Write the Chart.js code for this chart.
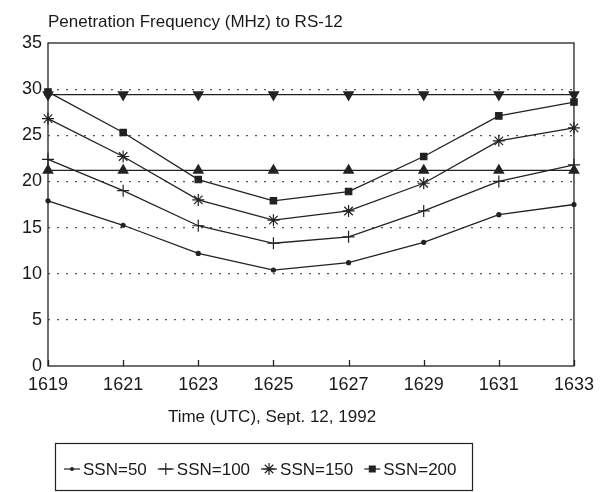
<!DOCTYPE html>
<html>
<head>
<meta charset="utf-8">
<script src="https://cdn.jsdelivr.net/npm/chart.js@4.4.1/dist/chart.umd.min.js"></script>
<style>
  html, body { margin: 0; padding: 0; background: #fff; }
  #wrap { width: 602px; height: 492px; }
</style>
</head>
<body>
<div id="wrap"><canvas id="c" width="602" height="492"></canvas></div>
<script>
// Time of day (UTC), 12 Sept 1992
const times = ['1619', '1621', '1623', '1625', '1627', '1629', '1631', '1633'];

// Penetration frequency (MHz) for each sunspot number
const ssn50  = [17.9, 15.25, 12.2, 10.4, 11.2, 13.4, 16.4, 17.5];
const ssn100 = [22.4, 19.0, 15.2, 13.3, 14.0, 16.8, 20.0, 21.8];
const ssn150 = [26.8, 22.7, 18.0, 15.8, 16.8, 19.8, 24.4, 25.8];
const ssn200 = [29.7, 25.3, 20.2, 17.9, 18.9, 22.7, 27.1, 28.6];

// RS-12 downlink and uplink frequencies (MHz)
const downlink = [29.4, 29.4, 29.4, 29.4, 29.4, 29.4, 29.4, 29.4];
const uplink   = [21.2, 21.2, 21.2, 21.2, 21.2, 21.2, 21.2, 21.2];

const yTicks = [0, 5, 10, 15, 20, 25, 30, 35];

const legendNames = ['SSN=50', 'SSN=100', 'SSN=150', 'SSN=200'];
const chartTitle = 'Penetration Frequency (MHz) to RS-12';
const xTitle = 'Time (UTC), Sept. 12, 1992';

const INK = '#222';
const FONT = '"Liberation Sans", Arial, Helvetica, sans-serif';

function series(label, data, style, radius, rotation, inLegend) {
  return {
    label, data,
    borderColor: INK, borderWidth: 1.3,
    pointStyle: style, pointRadius: radius, pointRotation: rotation || 0,
    pointBackgroundColor: INK, pointBorderColor: INK, pointBorderWidth: 1.2,
    tension: 0, fill: false, clip: false,
    inLegend
  };
}

// Small marker painter used by the legend box
function marker(ctx, style, x, y, r) {
  ctx.save();
  ctx.fillStyle = INK; ctx.strokeStyle = INK; ctx.lineWidth = 1.2;
  ctx.beginPath();
  if (style === 'circle') {
    ctx.arc(x, y, r, 0, Math.PI * 2); ctx.fill();
  } else if (style === 'cross') {
    ctx.moveTo(x, y - r); ctx.lineTo(x, y + r);
    ctx.moveTo(x - r, y); ctx.lineTo(x + r, y); ctx.stroke();
  } else if (style === 'star') {
    for (let k = 0; k < 4; k++) {
      const a = k * Math.PI / 4;
      ctx.moveTo(x - r * Math.sin(a), y - r * Math.cos(a));
      ctx.lineTo(x + r * Math.sin(a), y + r * Math.cos(a));
    }
    ctx.stroke();
  } else if (style === 'rect') {
    ctx.fillRect(x - r, y - r, 2 * r, 2 * r);
  }
  ctx.restore();
}

const decorations = {
  id: 'decorations',
  afterDraw(chart) {
    const { ctx, chartArea: a, scales: { x } } = chart;
    ctx.save();
    // plot frame
    ctx.strokeStyle = INK; ctx.lineWidth = 1.3;
    ctx.strokeRect(a.left, a.top, a.right - a.left, a.bottom - a.top);
    // inward tick marks on the time axis
    ctx.beginPath();
    times.forEach((t, i) => {
      const px = Math.round(x.getPixelForValue(i)) + 0.5;
      ctx.moveTo(px, a.bottom); ctx.lineTo(px, a.bottom - 6);
    });
    ctx.stroke();

    // titles
    ctx.fillStyle = '#1a1a1a';
    ctx.textBaseline = 'alphabetic';
    ctx.textAlign = 'left';
    ctx.font = '17px ' + FONT;
    ctx.fillText(chartTitle, a.left, 27);
    ctx.textAlign = 'center';
    ctx.fillText(xTitle, 272, 422);

    // legend box
    ctx.lineWidth = 1.2;
    ctx.strokeRect(55.5, 443.5, 417, 47);
    const shown = chart.data.datasets.filter(d => d.inLegend);
    ctx.textAlign = 'left';
    ctx.textBaseline = 'middle';
    ctx.font = '17px ' + FONT;
    let cx = 64;
    const cy = 469;
    shown.forEach(d => {
      ctx.beginPath();
      ctx.moveTo(cx, cy); ctx.lineTo(cx + 16, cy);
      ctx.lineWidth = 1.2; ctx.strokeStyle = INK; ctx.stroke();
      const r = d.pointStyle === 'circle' ? 2 : d.pointStyle === 'rect' ? 3.5 : 6;
      marker(ctx, d.pointStyle, cx + 8, cy, r);
      ctx.fillStyle = '#1a1a1a';
      ctx.fillText(d.label, cx + 19, cy + 1);
      cx += 19 + ctx.measureText(d.label).width + 11;
    });
    ctx.restore();
  }
};

new Chart(document.getElementById('c'), {
  type: 'line',
  data: {
    labels: times,
    datasets: [
      series(legendNames[0], ssn50, 'circle', 2, 0, true),
      series(legendNames[1], ssn100, 'cross', 6, 0, true),
      series(legendNames[2], ssn150, 'star', 6, 0, true),
      series(legendNames[3], ssn200, 'rect', 4.5, 0, true),
      series('RS-12 downlink', downlink, 'triangle', 5.5, 180, false),
      series('RS-12 uplink', uplink, 'triangle', 5.5, 0, false)
    ]
  },
  options: {
    responsive: false,
    devicePixelRatio: 1,
    animation: false,
    layout: { padding: { top: 43, right: 24, left: 0, bottom: 0 } },
    plugins: {
      legend: { display: false },
      title: { display: false },
      tooltip: { enabled: false }
    },
    elements: { point: { hoverRadius: 0 } },
    scales: {
      x: {
        type: 'category',
        offset: false,
        grid: { display: false, drawTicks: false },
        border: { display: false },
        ticks: { color: '#1a1a1a', font: { family: FONT, size: 18 }, padding: 8, maxRotation: 0, autoSkip: false },
        afterFit(s) { s.height = 126; }
      },
      y: {
        min: 0, max: 35,
        afterBuildTicks(s) { s.ticks = yTicks.map(v => ({ value: v })); },
        grid: {
          drawTicks: false,
          lineWidth: 1.2,
          color: c => (c.tick && (c.tick.value === 0 || c.tick.value === 35)) ? 'rgba(0,0,0,0)' : '#555'
        },
        border: { display: false, dash: [2, 7] },
        ticks: { color: '#1a1a1a', font: { family: FONT, size: 18 }, padding: 6 },
        afterFit(s) { s.width = 48; }
      }
    }
  },
  plugins: [decorations]
});
</script>
</body>
</html>
